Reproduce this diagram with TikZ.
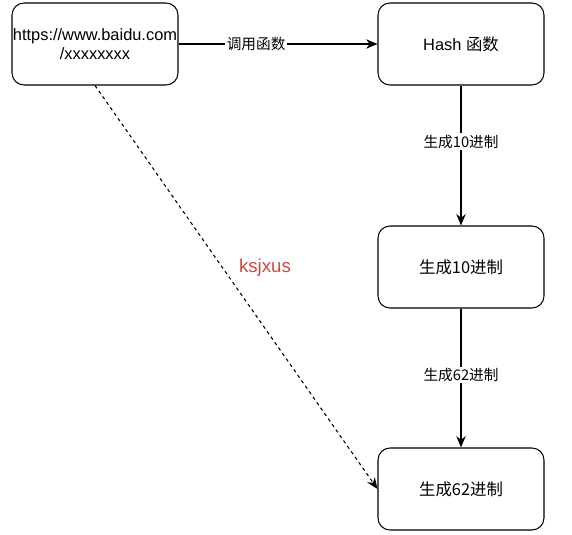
\documentclass[tikz,border=0pt]{standalone}
\usepackage{fontspec}
\setmainfont{Liberation Sans}
\newfontfamily\cjk{Noto Sans CJK SC}
\usetikzlibrary{arrows.meta}
\definecolor{labelred}{HTML}{D4453B}

\begin{document}
\begin{tikzpicture}[x=0.75pt, y=-0.75pt,
  box/.style={draw, line width=0.8pt, rounded corners=9pt, inner xsep=0pt, minimum width=124.5pt, minimum height=61.5pt, align=center, font=\fontsize{12.3}{14.5}\selectfont},
  lbl/.style={fill=white, inner sep=1pt, font=\fontsize{11}{13}\selectfont},
  flow/.style={line width=0.8pt, -{Stealth[length=8.5pt, width=7pt]}}]
  \useasboundingbox (0,0) rectangle (572,535);
  % draw rounded boxes
  \node[box] (url) at (95,44) {https://www.baidu.com\\/xxxxxxxx};
  \node[box] (hash) at (461,44) {Hash {\cjk 函数}};
  \node[box] (dec) at (461,267) {\cjk 生成10进制};
  \node[box] (b62) at (461,489) {\cjk 生成62进制};
  % draw solid arrows
  \draw[flow] (url) -- node[lbl, pos=0.39] {\cjk 调用函数} (hash);
  \draw[flow] (hash) -- node[lbl, pos=0.4] {\cjk 生成10进制} (dec);
  \draw[flow] (dec) -- node[lbl, pos=0.48] {\cjk 生成62进制} (b62);
  % draw dashed shortcut
  \draw[flow, dash pattern=on 2.5pt off 2.5pt] (url.south) -- (b62.west);
  \node[text=labelred, font=\fontsize{14}{16}\selectfont] (short) at (265,268) {ksjxus};
\end{tikzpicture}
\end{document}
